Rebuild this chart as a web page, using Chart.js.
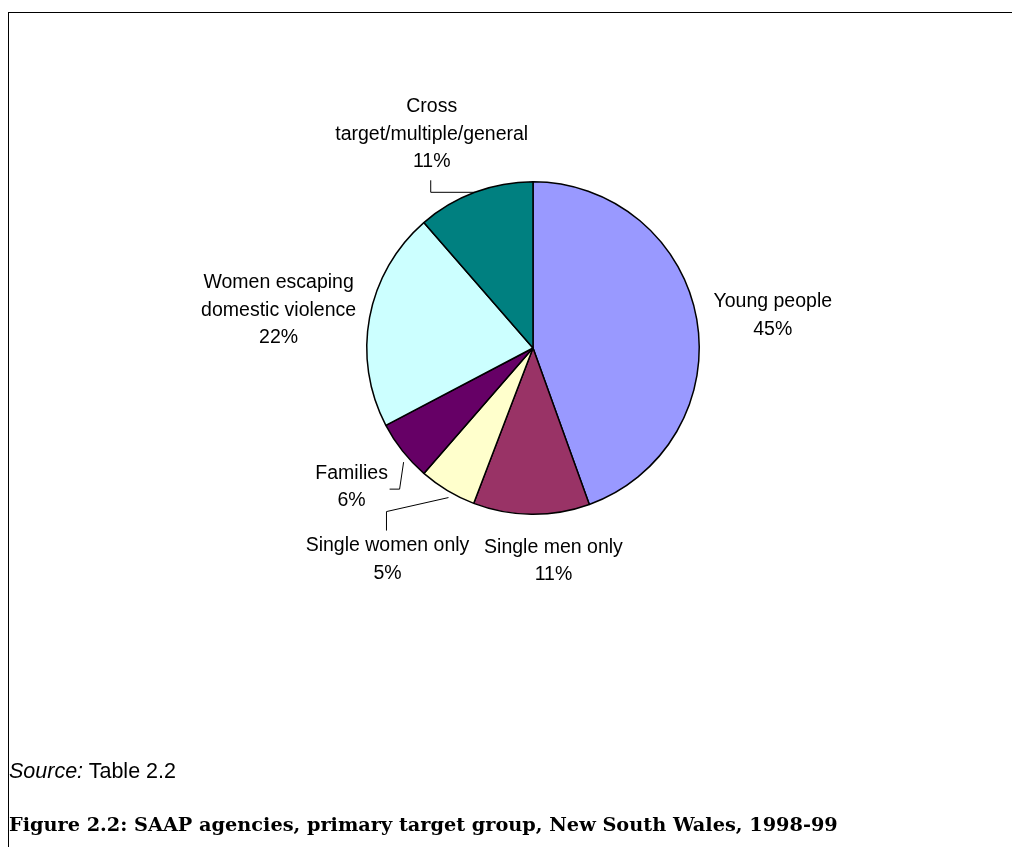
<!DOCTYPE html>
<html>
<head>
<meta charset="utf-8">
<script src="https://cdn.jsdelivr.net/npm/chart.js@4.4.1/dist/chart.umd.min.js"></script>
<style>
    html, body { margin: 0; padding: 0; background: #fff; }
    #wrap { position: relative; width: 1012px; height: 854px; overflow: hidden; }
    #frame {
        position: absolute; left: 8px; top: 12px; width: 1010px; height: 834px;
        border-top: 1.5px solid #000; border-left: 1.5px solid #000;
    }
    #pie { position: absolute; left: 0; top: 0; }
    #source {
        position: absolute; left: 9px; top: 759px; line-height: 26px;
        font: 21.5px "Liberation Sans", Arial, sans-serif; color: #000;
    }
    #title {
        position: absolute; left: 9px; top: 813px; white-space: nowrap;
        font: bold 19.3px "DejaVu Serif", "Liberation Serif", serif; color: #000;
    }
</style>
</head>
<body>
<div id="wrap">
    <div id="frame"></div>
    <canvas id="pie" width="1012" height="854"></canvas>
    <div id="source"><i>Source:</i> Table 2.2</div>
    <div id="title">Figure 2.2: SAAP agencies, primary target group, New South Wales, 1998-99</div>
</div>
<script>
    // 데이터
    const groups = [
        ['Young people'],
        ['Single men only'],
        ['Single women only'],
        ['Families'],
        ['Women escaping', 'domestic violence'],
        ['Cross', 'target/multiple/general']
    ];
    const shares = [44.5, 11.3, 5.6, 5.9, 21.3, 11.4];
    const pctLabels = ['45%', '11%', '5%', '6%', '22%', '11%'];
    const sliceColors = ['#9999ff', '#993366', '#ffffcc', '#660066', '#ccffff', '#008080'];

    // 라벨 배치 (조각 가장자리 중점 기준 오프셋, 지시선 시작점/꺾임점)
    const labelLayout = [
        { dx: 76, dy: -4 },
        { dx: 22, dy: 47 },
        { dx: -60, dy: 69, start: [1, 7], leader: [[-61, 21], [-61, 40]] },
        { dx: -51, dy: 36, start: [1, 11], leader: [[-3, 38], [-13, 38]] },
        { dx: -91, dy: -7 },
        { dx: -43, dy: -58, leader: [[-44, 0], [-44, -12]] }
    ];

    const lineH = 27.5;

    const pieLabels = {
        id: 'pieLabels',
        afterDatasetsDraw(chart) {
            const ctx = chart.ctx;
            const arcs = chart.getDatasetMeta(0).data;
            ctx.save();
            ctx.font = '19.5px "Liberation Sans", Arial, sans-serif';
            ctx.fillStyle = '#000';
            ctx.textAlign = 'center';
            ctx.textBaseline = 'middle';
            arcs.forEach((arc, i) => {
                const mid = (arc.startAngle + arc.endAngle) / 2;
                const ex = arc.x + Math.cos(mid) * arc.outerRadius;
                const ey = arc.y + Math.sin(mid) * arc.outerRadius;
                const lay = labelLayout[i];

                // 지시선
                if (lay.leader) {
                    const s = lay.start || [0, 0];
                    ctx.beginPath();
                    ctx.strokeStyle = '#000';
                    ctx.lineWidth = 1;
                    ctx.moveTo(ex + s[0], ey + s[1]);
                    lay.leader.forEach(p => ctx.lineTo(ex + p[0], ey + p[1]));
                    ctx.stroke();
                }

                const lines = groups[i].concat([pctLabels[i]]);
                const cx = ex + lay.dx;
                const cy = ey + lay.dy;
                const top = cy - (lines.length - 1) * lineH / 2;
                lines.forEach((t, k) => ctx.fillText(t, cx, top + k * lineH));
            });
            ctx.restore();
        }
    };

    new Chart(document.getElementById('pie'), {
        type: 'pie',
        data: {
            labels: groups.map(g => g.join(' ')),
            datasets: [{
                data: shares,
                backgroundColor: sliceColors,
                borderColor: '#000',
                borderWidth: 1.5
            }]
        },
        options: {
            responsive: false,
            animation: false,
            layout: {
                padding: { left: 366, right: 312, top: 181, bottom: 339 }
            },
            plugins: {
                legend: { display: false },
                tooltip: { enabled: false }
            }
        },
        plugins: [pieLabels]
    });
</script>
</body>
</html>
